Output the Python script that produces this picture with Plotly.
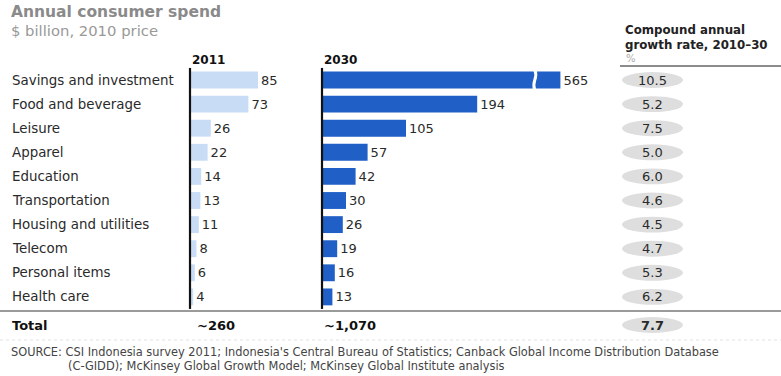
import plotly.graph_objects as go

# ---------------- data ----------------
categories = ["Savings and investment", "Food and beverage", "Leisure", "Apparel",
              "Education", "Transportation", "Housing and utilities", "Telecom",
              "Personal items", "Health care"]
spend_2011 = [85, 73, 26, 22, 14, 13, 11, 8, 6, 4]
spend_2030 = [565, 194, 105, 57, 42, 30, 26, 19, 16, 13]
cagr = [10.5, 5.2, 7.5, 5.0, 6.0, 4.6, 4.5, 4.7, 5.3, 6.2]
col_headers = ["2011", "2030"]
total_label = "Total"
total_2011 = "~260"
total_2030 = "~1,070"
total_cagr = 7.7
title = "Annual consumer spend"
subtitle = "$ billion, 2010 price"
cagr_header = "Compound annual<br>growth rate, 2010–30"
cagr_unit = "%"
source_1 = ("SOURCE: CSI Indonesia survey 2011; Indonesia's Central Bureau of Statistics; "
            "Canback Global Income Distribution Database")
source_2 = "(C-GIDD); McKinsey Global Growth Model; McKinsey Global Institute analysis"

# ---------------- layout parameters ----------------
W, H = 781, 376
ROW0_PX, ROW_PX = 80, 24.1          # pixel centre of first row, row pitch
AX1_PX, AX2_PX, PPU = 190, 322, 0.8  # axis origins (px) and px per $bn
AXIS_BREAK = 298                     # 2030 axis is broken beyond this value
BREAK_MARK = 266
FONT = "DejaVu Sans"
LIGHT = "#c8ddf5"
DARK = "#1f5fc6"
TXT = "#2a2a2a"

n = len(categories)
rows = list(range(n))
total_row = (325 - ROW0_PX) / ROW_PX


def py(px):
    return 1 - px / H


def px_(x):
    return x / W


fig = go.Figure()
fig.add_trace(go.Bar(
    x=spend_2011, y=rows, orientation="h", xaxis="x", yaxis="y",
    marker=dict(color=LIGHT, line=dict(width=0)), width=0.7,
    text=[str(v) for v in spend_2011], textposition="outside",
    outsidetextfont=dict(family=FONT, size=13, color=TXT),
    constraintext="none", cliponaxis=False, hoverinfo="skip"))
fig.add_trace(go.Bar(
    x=[min(v, AXIS_BREAK) for v in spend_2030], y=rows, orientation="h",
    xaxis="x2", yaxis="y",
    marker=dict(color=DARK, line=dict(width=0)), width=0.7,
    text=[str(v) for v in spend_2030], textposition="outside",
    outsidetextfont=dict(family=FONT, size=13, color=TXT),
    constraintext="none", cliponaxis=False, hoverinfo="skip"))

shapes = []
annotations = []

# axis baselines
for xr in ["x", "x2"]:
    shapes.append(dict(type="line", xref=xr, yref="y", x0=0, x1=0, y0=-0.5, y1=n - 0.5,
                       line=dict(color="#111", width=2.2), layer="above"))

# axis break marks on bars that exceed AXIS_BREAK
for i, v in enumerate(spend_2030):
    if v > AXIS_BREAK:
        b = BREAK_MARK
        y0, y1 = i - 0.45, i + 0.45
        path = (f"M {b},{y0} Q {b+2.5},{y0+0.22} {b},{i} Q {b-2.5},{i+0.22} {b},{y1}")
        shapes.append(dict(type="path", xref="x2", yref="y", path=path,
                           line=dict(color="white", width=3), layer="above"))

# CAGR ovals
oval_x0, oval_x1 = 622, 683
for i, v in enumerate(cagr):
    shapes.append(dict(type="circle", xref="paper", yref="y",
                       x0=px_(oval_x0), x1=px_(oval_x1), y0=i - 0.33, y1=i + 0.33,
                       fillcolor="#dedede", line=dict(width=0), layer="below"))
    annotations.append(dict(xref="paper", yref="y", x=px_((oval_x0 + oval_x1) / 2), y=i,
                            text=f"{v:.1f}", showarrow=False, xanchor="center",
                            yanchor="middle", font=dict(family=FONT, size=13, color=TXT)))
shapes.append(dict(type="circle", xref="paper", yref="y",
                   x0=px_(oval_x0), x1=px_(oval_x1), y0=total_row - 0.33, y1=total_row + 0.33,
                   fillcolor="#dedede", line=dict(width=0), layer="below"))
annotations.append(dict(xref="paper", yref="y", x=px_((oval_x0 + oval_x1) / 2), y=total_row,
                        text=f"<b>{total_cagr:.1f}</b>", showarrow=False, xanchor="center",
                        yanchor="middle", font=dict(family=FONT, size=13, color=TXT)))

# row labels
for i, c in enumerate(categories):
    annotations.append(dict(xref="paper", yref="y", x=px_(10), y=i, text=c, showarrow=False,
                            xanchor="left", yanchor="middle",
                            font=dict(family=FONT, size=13.4, color=TXT)))

# column headers
annotations.append(dict(xref="x", yref="y", x=0, y=(60 - ROW0_PX) / ROW_PX,
                        text=f"<b>{col_headers[0]}</b>", showarrow=False, xanchor="left",
                        yanchor="middle", font=dict(family=FONT, size=12, color="#111")))
annotations.append(dict(xref="x2", yref="y", x=0, y=(60 - ROW0_PX) / ROW_PX,
                        text=f"<b>{col_headers[1]}</b>", showarrow=False, xanchor="left",
                        yanchor="middle", font=dict(family=FONT, size=12, color="#111")))

# CAGR header
annotations.append(dict(xref="paper", yref="paper", x=px_(623), y=py(37),
                        text=f"<b>{cagr_header}</b>", showarrow=False, xanchor="left",
                        yanchor="middle", align="left",
                        font=dict(family=FONT, size=11.8, color="#222")))
annotations.append(dict(xref="paper", yref="paper", x=px_(624), y=py(58.5),
                        text=cagr_unit, showarrow=False, xanchor="left", yanchor="middle",
                        font=dict(family=FONT, size=10, color="#aaa")))
shapes.append(dict(type="line", xref="paper", yref="paper", x0=px_(620), x1=1,
                   y0=py(66), y1=py(66), line=dict(color="#666", width=1.5)))

# total row
annotations.append(dict(xref="paper", yref="y", x=px_(10), y=total_row,
                        text=f"<b>{total_label}</b>", showarrow=False, xanchor="left",
                        yanchor="middle", font=dict(family=FONT, size=13, color="#111")))
annotations.append(dict(xref="x", yref="y", x=0, y=total_row, xshift=5,
                        text=f"<b>{total_2011}</b>", showarrow=False, xanchor="left",
                        yanchor="middle", font=dict(family=FONT, size=13, color="#111")))
annotations.append(dict(xref="x2", yref="y", x=0, y=total_row,
                        text=f"<b>{total_2030}</b>", showarrow=False, xanchor="left",
                        yanchor="middle", font=dict(family=FONT, size=13, color="#111")))

# separators
shapes.append(dict(type="line", xref="paper", yref="paper", x0=0, x1=1,
                   y0=py(311), y1=py(311), line=dict(color="#9a9a9a", width=2)))
shapes.append(dict(type="line", xref="paper", yref="paper", x0=0, x1=1,
                   y0=py(340), y1=py(340), line=dict(color="#e2e2e2", width=1, dash="dot")))

# title
annotations.append(dict(xref="paper", yref="paper", x=px_(9), y=py(12),
                        text=f"<b>{title}</b>", showarrow=False, xanchor="left",
                        yanchor="middle", font=dict(family=FONT, size=15.5, color="#8a8a8a")))
annotations.append(dict(xref="paper", yref="paper", x=px_(9), y=py(31),
                        text=subtitle, showarrow=False, xanchor="left",
                        yanchor="middle", font=dict(family=FONT, size=14.8, color="#999")))

# source
annotations.append(dict(xref="paper", yref="paper", x=px_(9), y=py(352),
                        text=source_1, showarrow=False, xanchor="left", yanchor="middle",
                        font=dict(family=FONT, size=11.4, color="#444")))
annotations.append(dict(xref="paper", yref="paper", x=px_(66), y=py(366),
                        text=source_2, showarrow=False, xanchor="left", yanchor="middle",
                        font=dict(family=FONT, size=11.4, color="#444")))

fig.update_layout(
    width=W, height=H, margin=dict(l=0, r=0, t=0, b=0),
    paper_bgcolor="white", plot_bgcolor="white", showlegend=False,
    barmode="overlay",
    xaxis=dict(domain=[0, 1], range=[-AX1_PX / PPU, (W - AX1_PX) / PPU], visible=False,
               fixedrange=True),
    xaxis2=dict(domain=[0, 1], range=[-AX2_PX / PPU, (W - AX2_PX) / PPU], visible=False,
                overlaying="x", fixedrange=True),
    yaxis=dict(domain=[0, 1], range=[(H - ROW0_PX) / ROW_PX, -ROW0_PX / ROW_PX],
               visible=False, fixedrange=True),
    shapes=shapes, annotations=annotations,
)

fig.write_html("out.html")
